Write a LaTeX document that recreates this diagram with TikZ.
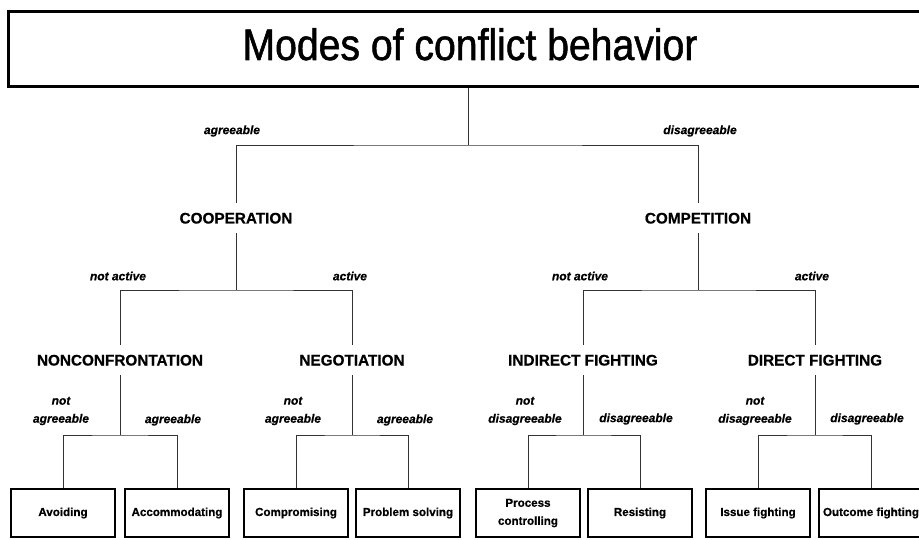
\documentclass[tikz,border=0pt]{standalone}
\usepackage{fontspec}
\setmainfont{Liberation Sans}
\newfontfamily\titlefont[FakeStretch=0.89, FakeBold=1.2]{Liberation Sans}
\newfontfamily\heavyfont[FakeBold=0.6]{Liberation Sans}
\begin{document}
\begin{tikzpicture}[x=1pt,y=-1pt,
  conn/.style={line width=0.8pt, draw=black!80},
  headbox/.style={draw, line width=2.8pt, minimum width=920pt, minimum height=75pt,
    inner sep=0pt, text height=32pt, text depth=10pt,
    font=\titlefont\fontsize{44}{50}\selectfont},
  mode/.style={font=\heavyfont\bfseries\fontsize{15.3}{18}\selectfont, inner sep=0pt,
    minimum height=30pt, text height=11pt, text depth=0pt},
  leaf/.style={draw, line width=2.4pt, minimum width=104.5pt, minimum height=47.5pt,
    inner sep=1pt, align=center, font=\heavyfont\bfseries\fontsize{11.6}{15}\selectfont},
  cond/.style={font=\heavyfont\bfseries\itshape\fontsize{12}{18}\selectfont, align=center, inner sep=0pt}
]
\useasboundingbox (0,0) rectangle (919,540);
\fill[white] (0,0) rectangle (919,540);

% title
\node[headbox] (title) at (468.5,49) {\hspace*{3pt}Modes of conflict behavior};

% first split
\node[mode] (coop) at (236,218) {COOPERATION};
\node[mode] (comp) at (698,218) {COMPETITION};

% second split
\node[mode] (nonc) at (120,360) {NONCONFRONTATION};
\node[mode] (nego) at (352,360) {NEGOTIATION};
\node[mode] (indf) at (583,360) {INDIRECT FIGHTING};
\node[mode] (dirf) at (815,360) {DIRECT FIGHTING};

% leaves
\node[leaf] (avoid) at (63,513) {Avoiding};
\node[leaf] (accom) at (177,513) {Accommodating};
\node[leaf] (compr) at (296,513) {Compromising};
\node[leaf] (probl) at (408,513) {Problem solving};
\node[leaf, font=\heavyfont\bfseries\fontsize{11.6}{18}\selectfont] (procc) at (528,513) {Process\\controlling};
\node[leaf] (resis) at (640,513) {Resisting};
\node[leaf] (issue) at (758,513) {Issue fighting};
\node[leaf] (outco) at (871,513) {Outcome fighting};

% junctions
\coordinate (j0) at (468.5,145);
\coordinate (j1) at (236,290);
\coordinate (j2) at (698,290);
\coordinate (k1) at (120,435);
\coordinate (k2) at (352,435);
\coordinate (k3) at (583,435);
\coordinate (k4) at (815,435);

% connectors
\draw[conn] (title.south) -- (j0);
\draw[conn] (coop.north) |- (j0) -| (comp.north);
\draw[conn] (coop.south) -- (j1);
\draw[conn] (comp.south) -- (j2);
\draw[conn] (nonc.north) |- (j1) -| (nego.north);
\draw[conn] (indf.north) |- (j2) -| (dirf.north);
\draw[conn] (nonc.south) -- (k1);
\draw[conn] (nego.south) -- (k2);
\draw[conn] (indf.south) -- (k3);
\draw[conn] (dirf.south) -- (k4);
\draw[conn] (avoid.north) |- (k1) -| (accom.north);
\draw[conn] (compr.north) |- (k2) -| (probl.north);
\draw[conn] (procc.north) |- (k3) -| (resis.north);
\draw[conn] (issue.north) |- (k4) -| (outco.north);

% branch conditions
\node[cond] (c-agr) at (232,131) {agreeable};
\node[cond] (c-dis) at (700,131) {disagreeable};
\node[cond] (c-na1) at (118,276) {not active};
\node[cond] (c-a1) at (350,276) {active};
\node[cond] (c-na2) at (580,276) {not active};
\node[cond] (c-a2) at (812,276) {active};
\node[cond] (c-nag1) at (61,411) {not\\agreeable};
\node[cond] (c-ag1) at (173,420) {agreeable};
\node[cond] (c-nag2) at (293,411) {not\\agreeable};
\node[cond] (c-ag2) at (405,420) {agreeable};
\node[cond] (c-nd1) at (525,411) {not\\disagreeable};
\node[cond] (c-d1) at (636,419) {disagreeable};
\node[cond] (c-nd2) at (755,411) {not\\disagreeable};
\node[cond] (c-d2) at (867,419) {disagreeable};
\end{tikzpicture}
\end{document}
